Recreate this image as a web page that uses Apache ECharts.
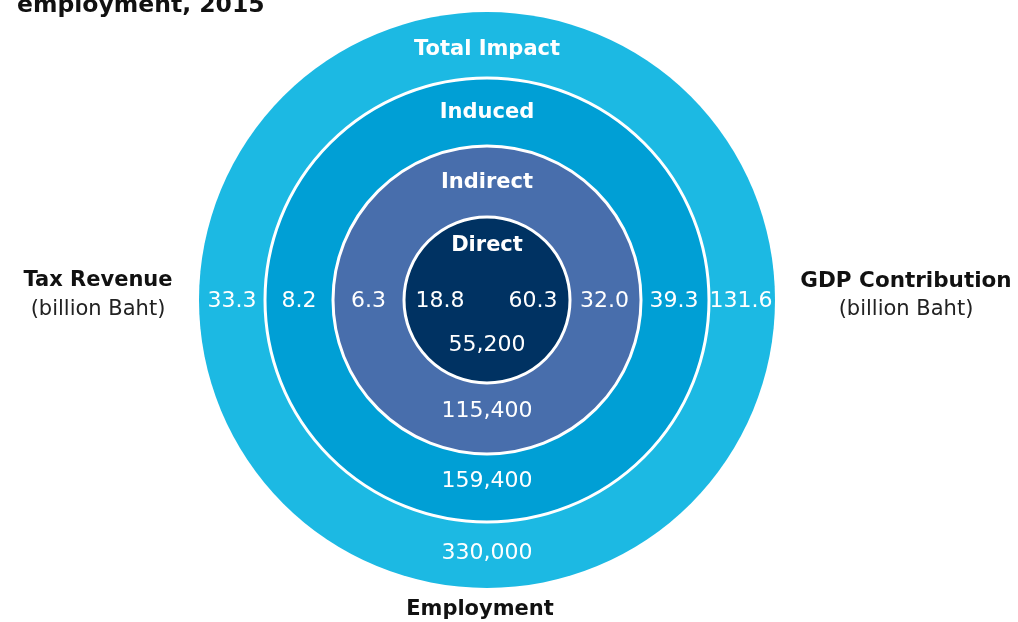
<!DOCTYPE html>
<html>
<head>
<meta charset="utf-8">
<script src="https://cdn.jsdelivr.net/npm/echarts@6/dist/echarts.min.js"></script>
<style>
html,body{margin:0;padding:0;background:#fff;}
#chart{width:1018px;height:622px;}
</style>
</head>
<body>
<div id="chart"></div>
<script>
// ---- data ----
const rings = ['Total Impact', 'Induced', 'Indirect', 'Direct'];
const taxRevenue = [33.3, 8.2, 6.3, 18.8];          // billion Baht
const gdpContribution = [131.6, 39.3, 32.0, 60.3];  // billion Baht
const employment = [330000, 159400, 115400, 55200];
const titleText = 'employment, 2015';
const leftAxisLabel = ['Tax Revenue', '(billion Baht)'];
const rightAxisLabel = ['GDP Contribution', '(billion Baht)'];
const bottomAxisLabel = 'Employment';

// ---- layout / style ----
const colors = ['#1cb9e3', '#009fd5', '#486eac', '#003262'];
const radii = [288, 222, 154, 83];
const cx = 487, cy = 300;
const font = '"DejaVu Sans", sans-serif';

const chart = echarts.init(document.getElementById('chart'));

const series = rings.map((name, i) => ({
  type: 'pie',
  name: name,
  center: [cx, cy],
  radius: [0, radii[i]],
  silent: true,
  animation: false,
  z: 2 + i,
  label: { show: false },
  labelLine: { show: false },
  itemStyle: {
    color: colors[i],
    borderColor: '#ffffff',
    borderWidth: i === 0 ? 0 : 3
  },
  data: [{ name: name, value: employment[i] }]
}));

function mid(i) {
  return i < radii.length - 1 ? (radii[i] + radii[i + 1]) / 2 : null;
}

const graphics = [];
function txt(x, y, text, opt) {
  graphics.push({
    type: 'text', x: x, y: y, z: 100, silent: true,
    style: Object.assign({
      text: text, fill: '#ffffff', align: 'center', verticalAlign: 'middle',
      font: 'normal 22px ' + font
    }, opt || {})
  });
}

rings.forEach((name, i) => {
  const m = mid(i);
  const topOff = m === null ? 55 : m;
  const sideOff = m === null ? 47 : m;
  const botOff = m === null ? 45 : (i === 0 ? m - 2 : m - 7);
  txt(cx, cy - topOff + 1 + (i === 0 ? 4 : 0), name, { font: 'bold 21px ' + font });
  txt(cx - sideOff, cy + 1, taxRevenue[i].toFixed(1));
  txt(cx + sideOff - 1, cy + 1, gdpContribution[i].toFixed(1));
  txt(cx, cy + botOff, employment[i].toLocaleString('en-US'));
});

txt(98, 281, leftAxisLabel[0], { fill: '#111', font: 'bold 21px ' + font });
txt(98, 310, leftAxisLabel[1], { fill: '#222', font: 'normal 21px ' + font });
txt(906, 281, rightAxisLabel[0], { fill: '#111', font: 'bold 21.5px ' + font });
txt(906, 310, rightAxisLabel[1], { fill: '#222', font: 'normal 21px ' + font });
txt(480, 610, bottomAxisLabel, { fill: '#111', font: 'bold 21px ' + font });
txt(17, 6, titleText, { fill: '#111', align: 'left', font: 'bold 23.5px ' + font });

chart.setOption({
  backgroundColor: '#ffffff',
  animation: false,
  series: series,
  graphic: graphics
});
</script>
</body>
</html>
